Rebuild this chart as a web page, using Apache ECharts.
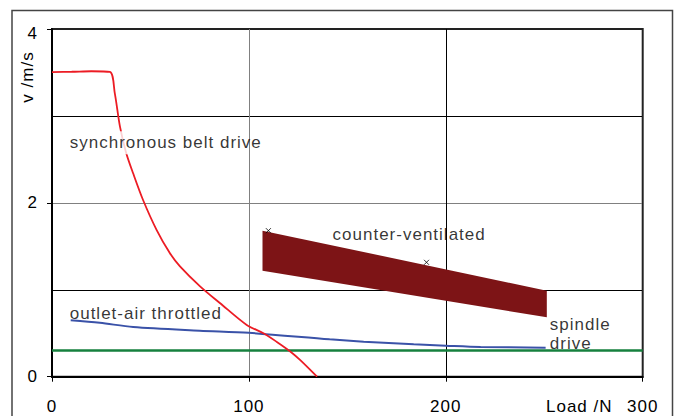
<!DOCTYPE html>
<html>
<head>
<meta charset="utf-8">
<script src="https://cdn.jsdelivr.net/npm/echarts@6/dist/echarts.min.js"></script>
<style>
  html, body { margin: 0; padding: 0; background: #fff; }
  #chart { width: 674px; height: 416px; }
  #chart text { letter-spacing: 1px; }
</style>
</head>
<body>
<div id="chart"></div>
<script>
// Synchronous belt drive: speed falls off sharply above ~30 N
const beltLoad  = [0, 10, 20, 29.4, 31.9, 34.5, 37.6, 41.2, 46.3, 53.1, 59.9, 65.0, 75.2, 85.4, 98.9, 107.4, 114.2, 121.0, 126.1, 134.6];
const beltSpeed = [3.505, 3.508, 3.514, 3.506, 3.26, 2.88, 2.58, 2.34, 2.03, 1.69, 1.42, 1.27, 1.04, 0.845, 0.595, 0.50, 0.40, 0.29, 0.19, 0.0];

// Outlet-air throttled cylinder
const outletLoad  = [9.5, 24.3, 41.2, 75, 100, 141, 158.3, 183.7, 200, 217.7, 250.7];
const outletSpeed = [0.649, 0.62, 0.572, 0.53, 0.505, 0.43, 0.403, 0.373, 0.357, 0.342, 0.334];

// Spindle drive: constant speed over the whole load range
const spindleLoad  = [0, 300];
const spindleSpeed = [0.30, 0.30];

// Counter-ventilated cylinder: band between upper and lower edge
const counterLoad   = [106.9, 251.3];
const counterUpper  = [1.68, 0.99];
const counterLower  = [1.22, 0.683];
const counterMarkLoad  = [109.9, 190.2];
const counterMarkSpeed = [1.68, 1.316];

// Axis ticks
const xTicks = [0, 100, 200, 300];
const yTicks = [0, 2, 4];

// Curve captions, placed in data coordinates
const captionText  = ['synchronous belt drive', 'outlet-air throttled', 'counter-ventilated', 'spindle\ndrive'];
const captionLoad  = [9.0, 9.0, 142.5, 252.8];
const captionSpeed = [2.69, 0.73, 1.64, 0.49];

const zip = (a, b) => a.map((v, i) => [v, b[i]]);

const chart = echarts.init(document.getElementById('chart'), null, { renderer: 'svg' });

const FONT = '"Liberation Sans", Arial, sans-serif';
const INK = '#000';

chart.setOption({
  animation: false,
  backgroundColor: '#fff',
  grid: {
    left: 52, top: 29, right: 31.3, bottom: 39.3,
    show: true, borderColor: '#222', borderWidth: 2,
    backgroundColor: 'transparent'
  },
  graphic: [
    {
      type: 'rect', z: 0, silent: true,
      shape: { x: 12, y: 10.5, width: 660.5, height: 430 },
      style: { fill: 'none', stroke: '#444', lineWidth: 1.5 }
    },
    {
      type: 'text', x: 27, y: 77, rotation: Math.PI / 2, silent: true,
      style: { text: 'v /m/s', fill: INK, font: '17px ' + FONT, align: 'center', verticalAlign: 'middle' }
    },
    {
      type: 'text', x: 546, y: 406, silent: true,
      style: { text: 'Load /N', fill: INK, font: '17px ' + FONT, align: 'left', verticalAlign: 'middle' }
    }
  ],
  xAxis: {
    type: 'value', min: xTicks[0], max: xTicks[xTicks.length - 1], interval: 100,
    axisLine: { show: true, onZero: false, lineStyle: { color: '#000', width: 2 } },
    axisTick: { show: true, length: 5, lineStyle: { color: '#000', width: 1 } },
    axisLabel: { margin: 21, color: INK, fontSize: 17, fontFamily: FONT },
    splitLine: { show: true, lineStyle: { color: ['#000', '#808080', '#000', '#222'], width: 1 } }
  },
  yAxis: [
    {
      type: 'value', min: 0, max: 4, interval: 1,
      axisLine: { show: true, onZero: false, lineStyle: { color: '#000', width: 2 } },
      axisTick: { show: false },
      axisLabel: { show: false },
      splitLine: { show: true, lineStyle: { color: ['#000', '#000', '#808080', '#000', '#222'], width: 1 } }
    },
    {
      type: 'value', min: yTicks[0], max: yTicks[yTicks.length - 1], interval: 2, position: 'left',
      axisLine: { show: false },
      axisTick: { show: true, length: 5, lineStyle: { color: '#000', width: 1 } },
      axisLabel: {
        margin: 14, color: INK, fontSize: 17, fontFamily: FONT,
        formatter: v => (v === 4 ? '{top|4}' : String(v)),
        rich: { top: { fontSize: 17, fontFamily: FONT, color: INK, padding: [9, 0, 0, 0] } }
      },
      splitLine: { show: false }
    }
  ],
  series: [
    {
      name: 'counter-ventilated',
      type: 'custom',
      z: 2,
      data: [[counterLoad[0], counterUpper[0]]],
      renderItem: (params, api) => {
        const upper = counterLoad.map((x, i) => api.coord([x, counterUpper[i]]));
        const lower = counterLoad.map((x, i) => api.coord([x, counterLower[i]])).reverse();
        return { type: 'polygon', shape: { points: upper.concat(lower) }, style: { fill: '#7d1416' } };
      }
    },
    {
      name: 'counter-ventilated points',
      type: 'scatter',
      z: 3,
      symbol: 'path://M0,0L10,10M10,0L0,10',
      symbolSize: 5,
      itemStyle: { color: 'none', borderColor: '#000', borderWidth: 1 },
      data: zip(counterMarkLoad, counterMarkSpeed)
    },
    {
      name: 'spindle drive',
      type: 'line', z: 3, showSymbol: false,
      lineStyle: { color: '#16803e', width: 2.5 },
      data: zip(spindleLoad, spindleSpeed)
    },
    {
      name: 'outlet-air throttled',
      type: 'line', z: 4, showSymbol: false, smooth: 0.3,
      lineStyle: { color: '#3a52a8', width: 2 },
      data: zip(outletLoad, outletSpeed)
    },
    {
      name: 'synchronous belt drive',
      type: 'line', z: 5, showSymbol: false, smooth: 0.3,
      lineStyle: { color: '#ec1c24', width: 1.8 },
      data: zip(beltLoad, beltSpeed)
    },
    {
      name: 'captions',
      type: 'scatter', z: 10, symbolSize: 0, silent: true,
      label: {
        show: true, position: 'inside', align: 'left', verticalAlign: 'middle',
        color: INK, fontSize: 17, fontFamily: FONT, lineHeight: 19,
        formatter: p => p.data.value[2]
      },
      data: captionText.map((t, i) => {
        const item = { value: [captionLoad[i], captionSpeed[i], t] };
        if (i === 0) {
          item.label = { backgroundColor: '#fff', padding: [2, 2, 2, 0] };
        }
        return item;
      })
    }
  ]
});
</script>
</body>
</html>
